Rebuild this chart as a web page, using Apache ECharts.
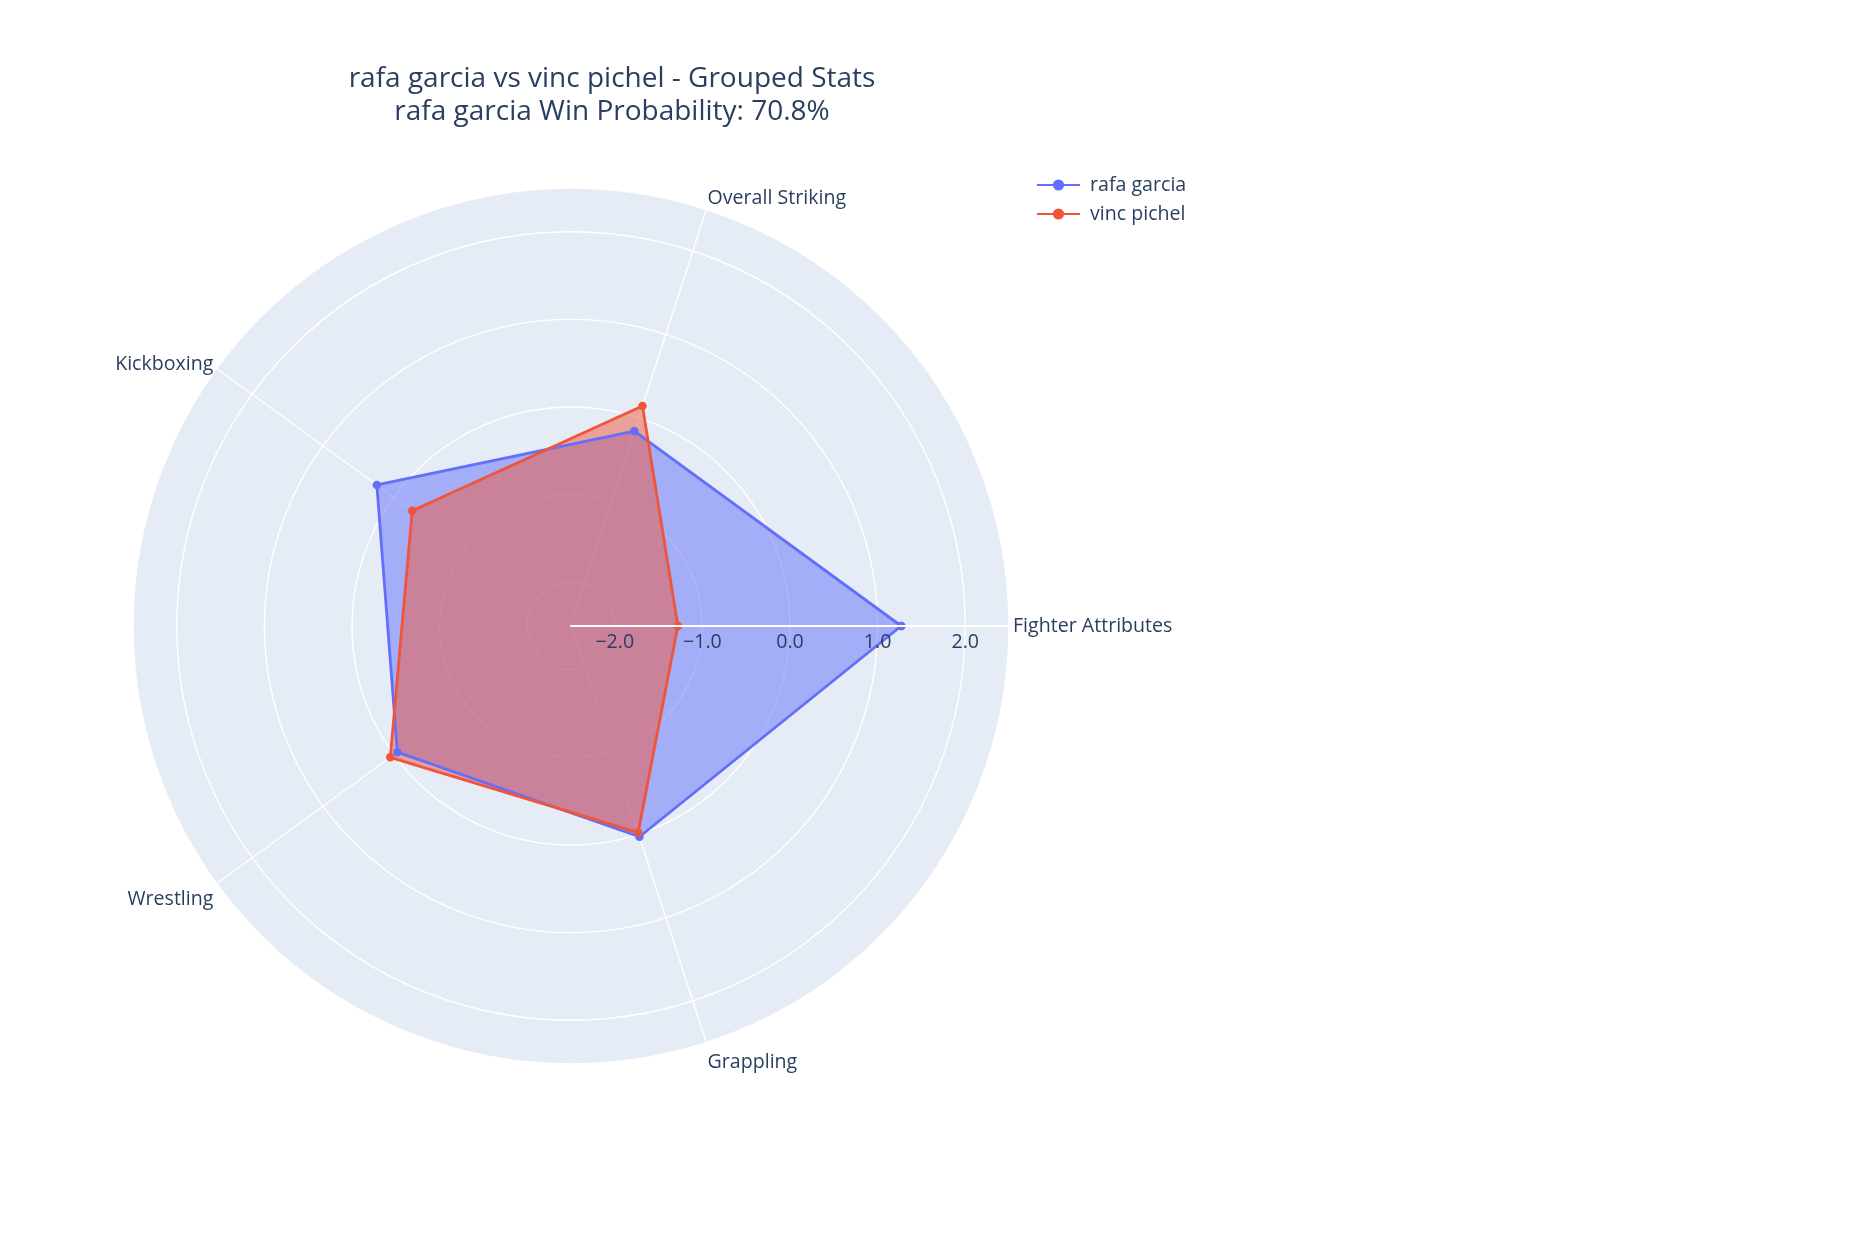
<!DOCTYPE html>
<html>
<head>
<meta charset="utf-8">
<title>rafa garcia vs vinc pichel - Grouped Stats</title>
<script src="https://cdn.jsdelivr.net/npm/echarts@6/dist/echarts.min.js"></script>
<style>
  html, body { margin: 0; padding: 0; background: #fff; }
  #chart { width: 1858px; height: 1260px; }
</style>
</head>
<body>
<div id="chart"></div>
<script>
const categories = ["Fighter Attributes", "Overall Striking", "Kickboxing", "Wrestling", "Grappling"];
const rafaValues = [1.27, -0.16, 0.24, -0.05, 0.03];
const vincValues = [-1.28, 0.14, -0.26, 0.05, -0.02];
const radialTicks = [-2, -1, 0, 1, 2];
const fighterNames = ["rafa garcia", "vinc pichel"];
const winProbability = 70.8;

const FONT = '"Open Sans", verdana, arial, sans-serif';
const TEXT = "#2a3f5f";
const STEP = 360 / categories.length;
const CENTER = [571, 626];
const RADIUS = 438;

// [radius, angle] pairs, first point repeated so the shape closes
function toPolar(values) {
  const pts = values.map((v, i) => [v, i * STEP]);
  pts.push([values[0], 360]);
  return pts;
}

function fmtTick(v) {
  if (!radialTicks.includes(v)) return "";
  return (v < 0 ? "\u2212" : "") + Math.abs(v).toFixed(1);
}

// per-label line heights nudge the angular labels like plotly places them
const labelRich = {
  c0: { lineHeight: 20 },
  c1: { lineHeight: 14 },
  c2: { lineHeight: 4 },
  c3: { lineHeight: 28 },
  c4: { lineHeight: 32 },
};

function buildSeries(name, values, color) {
  return {
    name: name,
    type: "line",
    coordinateSystem: "polar",
    polarIndex: 0,
    data: toPolar(values),
    symbol: "circle",
    symbolSize: 8.5,
    lineStyle: { width: 2.8, color: color },
    itemStyle: { color: color },
    areaStyle: { color: color, opacity: 0.5, origin: "start" },
    emphasis: { disabled: true },
    animation: false,
    z: 2,
  };
}

const chart = echarts.init(document.getElementById("chart"));

chart.setOption({
  backgroundColor: "#fff",
  textStyle: { fontFamily: FONT, color: TEXT },
  title: {
    text: `${fighterNames[0]} vs ${fighterNames[1]} - Grouped Stats\n${fighterNames[0]} Win Probability: ${winProbability}%`,
    left: 607,
    top: 58,
    textAlign: "center",
    textStyle: { fontFamily: FONT, fontSize: 28, fontWeight: "normal", color: TEXT, lineHeight: 33 },
  },
  legend: {
    orient: "vertical",
    left: 1036,
    top: 175,
    padding: 0,
    itemWidth: 43,
    itemHeight: 14,
    itemGap: 9,
    textStyle: { fontFamily: FONT, fontSize: 19.6, color: TEXT, padding: [0, 0, 0, 5] },
    data: fighterNames,
  },
  polar: [
    { center: CENTER, radius: RADIUS },
    { center: CENTER, radius: RADIUS },
  ],
  angleAxis: [
    {
      // background disc and category labels
      polarIndex: 0,
      type: "value",
      min: 0,
      max: 360,
      interval: STEP,
      startAngle: 0,
      clockwise: false,
      z: 0,
      axisLine: { show: false },
      axisTick: { show: false },
      axisLabel: {
        margin: 4,
        fontFamily: FONT,
        fontSize: 19.6,
        color: TEXT,
        rich: labelRich,
        formatter: (v) => {
          if (v >= 360) return "";
          const i = Math.round(v / STEP);
          return `{c${i}|${categories[i]}}`;
        },
      },
      splitLine: { show: false },
      splitArea: { show: true, areaStyle: { color: ["#E5ECF6"] } },
    },
    {
      // spokes, above the disc but below the traces
      polarIndex: 1,
      type: "value",
      min: 0,
      max: 360,
      interval: STEP,
      startAngle: 0,
      clockwise: false,
      z: 1,
      axisLine: { show: false },
      axisTick: { show: false },
      axisLabel: { show: false },
      splitLine: { show: true, lineStyle: { color: "#fff", width: 1.4 } },
      splitArea: { show: false },
    },
  ],
  radiusAxis: [
    {
      polarIndex: 0,
      min: -2.5,
      max: 2.5,
      splitNumber: 5,
      z: 1,
      axisLine: { show: false },
      axisTick: { show: false },
      axisLabel: { show: false },
      splitLine: { show: true, lineStyle: { color: "#fff", width: 1.4 } },
      splitArea: { show: false },
    },
    {
      polarIndex: 1,
      min: -2.5,
      max: 2.5,
      splitNumber: 5,
      z: 5,
      axisLine: { show: true, lineStyle: { color: "#fff", width: 1.8 } },
      axisTick: { show: false },
      axisLabel: {
        margin: -26,
        fontFamily: FONT,
        fontSize: 19.6,
        color: TEXT,
        formatter: fmtTick,
      },
      splitLine: { show: false },
      splitArea: { show: false },
    },
  ],
  series: [
    buildSeries(fighterNames[0], rafaValues, "#636EFA"),
    buildSeries(fighterNames[1], vincValues, "#EF553B"),
  ],
});
</script>
</body>
</html>
